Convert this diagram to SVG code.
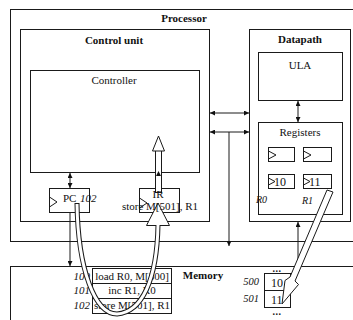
<svg xmlns="http://www.w3.org/2000/svg" width="353" height="320" viewBox="0 0 353 320">
<defs>
<style>
.box{fill:none;stroke:#1a1a1a;stroke-width:1}
.wbox{fill:#fff;stroke:#1a1a1a;stroke-width:1}
.ln{stroke:#1a1a1a;stroke-width:1;fill:none}
.t{font-family:"Liberation Serif","Times New Roman",serif;font-size:11px;fill:#111}
.b{font-weight:bold}
.i{font-style:italic}
.m{text-anchor:middle}
.e{text-anchor:end}
.hol{fill:#fff;stroke:#1a1a1a;stroke-width:1;stroke-linejoin:miter}
</style>
<marker id="ah" viewBox="0 0 10 10" refX="10" refY="5" markerWidth="6" markerHeight="5" orient="auto-start-reverse" markerUnits="userSpaceOnUse">
<path d="M0,0 L10,5 L0,10 z" fill="#111"/>
</marker>
</defs>
<rect width="353" height="320" fill="#fff"/>

<g id="processor">
<rect class="box" x="10.5" y="9.5" width="360" height="232"/>
<text class="t b m" x="184" y="22">Processor</text>
</g>

<g id="control-unit">
<rect class="box" x="20.5" y="29.5" width="189" height="192"/>
<text class="t b m" x="114" y="44">Control unit</text>
</g>

<g id="controller">
<rect class="box" x="30.5" y="70.5" width="169" height="102"/>
<text class="t m" x="114" y="84">Controller</text>
</g>

<g id="datapath">
<rect class="box" x="249.5" y="29.5" width="101" height="192"/>
<text class="t b m" x="300" y="43">Datapath</text>
</g>

<g id="ula">
<rect class="box" x="258.5" y="52.5" width="84" height="48"/>
<text class="t m" x="300" y="69">ULA</text>
</g>

<g id="registers">
<rect class="box" x="258.5" y="122.5" width="84" height="92"/>
<text class="t m" x="300" y="136">Registers</text>
<rect class="box" x="268.5" y="147.5" width="26" height="14"/>
<rect class="box" x="303.5" y="147.5" width="28" height="14"/>
<rect class="box" x="268.5" y="174.5" width="26" height="14"/>
<rect class="box" x="303.5" y="174.5" width="28" height="14"/>
<polyline class="ln" points="268.5,151 276,155 268.5,159"/>
<polyline class="ln" points="303.5,151 311,155 303.5,159"/>
<polyline class="ln" points="268.5,178 275,181.5 268.5,185"/>
<polyline class="ln" points="303.5,178 310,181.5 303.5,185"/>
<text class="t" x="274" y="186" style="font-size:12px">10</text>
<text class="t" x="309" y="186" style="font-size:12px">11</text>
<text class="t i" x="256" y="203" style="font-size:10px">R0</text>
<text class="t i" x="302" y="204" style="font-size:10px">R1</text>
</g>

<g id="pc">
<rect class="box" x="49.5" y="188.5" width="40" height="24"/>
<polyline class="ln" points="49.5,197 57,202 49.5,207"/>
<text class="t" x="63" y="202">PC</text>
<text class="t i" x="80" y="202">102</text>
</g>

<g id="ir">
<rect class="box" x="139.5" y="188.5" width="40" height="24"/>
<polyline class="ln" points="139.5,198 147,203 139.5,208"/>
</g>

<g id="memory">
<rect class="box" x="10.5" y="266.5" width="360" height="80"/>
<text class="t b m" x="203" y="279">Memory</text>
<rect class="box" x="92.5" y="268.5" width="79" height="45"/>
<line class="ln" x1="92.5" y1="283.5" x2="171.5" y2="283.5"/>
<line class="ln" x1="92.5" y1="298.5" x2="171.5" y2="298.5"/>
<text class="t m" x="132" y="280">load R0, M[500]</text>
<text class="t m" x="132" y="294">inc R1, R0</text>
<text class="t m" x="132" y="309">store M[501], R1</text>
<text class="t i e" x="90" y="280">100</text>
<text class="t i e" x="90" y="294">101</text>
<text class="t i e" x="90" y="309">102</text>
<rect class="box" x="264.5" y="273.5" width="26" height="34"/>
<line class="ln" x1="264.5" y1="290.5" x2="290.5" y2="290.5"/>
<text class="t" x="271" y="287" style="font-size:12px">10</text>
<text class="t" x="271" y="304" style="font-size:12px">11</text>
<text class="t i e" x="259" y="285" style="font-size:10.5px">500</text>
<text class="t i e" x="259" y="302" style="font-size:10.5px">501</text>
<text class="t b m" x="277" y="272" style="font-size:10px;letter-spacing:0.5px">...</text>
<text class="t b m" x="277" y="315" style="font-size:10px;letter-spacing:0.5px">...</text>
</g>

<g id="connectors">
<line class="ln" x1="210" y1="113" x2="249" y2="113" marker-start="url(#ah)" marker-end="url(#ah)"/>
<line class="ln" x1="210" y1="132" x2="249" y2="132" marker-start="url(#ah)" marker-end="url(#ah)"/>
<line class="ln" x1="229" y1="132" x2="229" y2="246" marker-end="url(#ah)"/>
<line class="ln" x1="298" y1="101" x2="298" y2="122" marker-start="url(#ah)" marker-end="url(#ah)"/>
<line class="ln" x1="298" y1="266" x2="298" y2="222" marker-end="url(#ah)"/>
<line class="ln" x1="70" y1="173" x2="70" y2="188" marker-start="url(#ah)" marker-end="url(#ah)"/>
<line class="ln" x1="70" y1="213" x2="70" y2="266" marker-end="url(#ah)"/>
<rect class="hol" x="155.5" y="150.5" width="6" height="42"/>
<polygon class="hol" points="158.5,136 152.5,151 164.5,151"/>
<polygon points="158.5,171 156,176 161,176" fill="#111"/>
<polygon class="hol" points="158,203 146.5,225.5 169.5,225.5"/>
<path d="M77,203 C78,270 95,314 117,314 C142,312 157,280 158,225" fill="none" stroke="#1a1a1a" stroke-width="5"/>
<path d="M77,204 C78,270 95,314 117,314 C142,312 157,280 158,224.5" fill="none" stroke="#fff" stroke-width="3"/>
<polygon class="hol" points="327,190 333,192 295,281 298.5,284.5 282,304 285,280.5 290,277"/>
</g>

<g id="ir-text">
<text class="t m" x="158" y="198">IR</text>
<text class="t m" x="160" y="210">store M[501], R1</text>
</g>
</svg>
